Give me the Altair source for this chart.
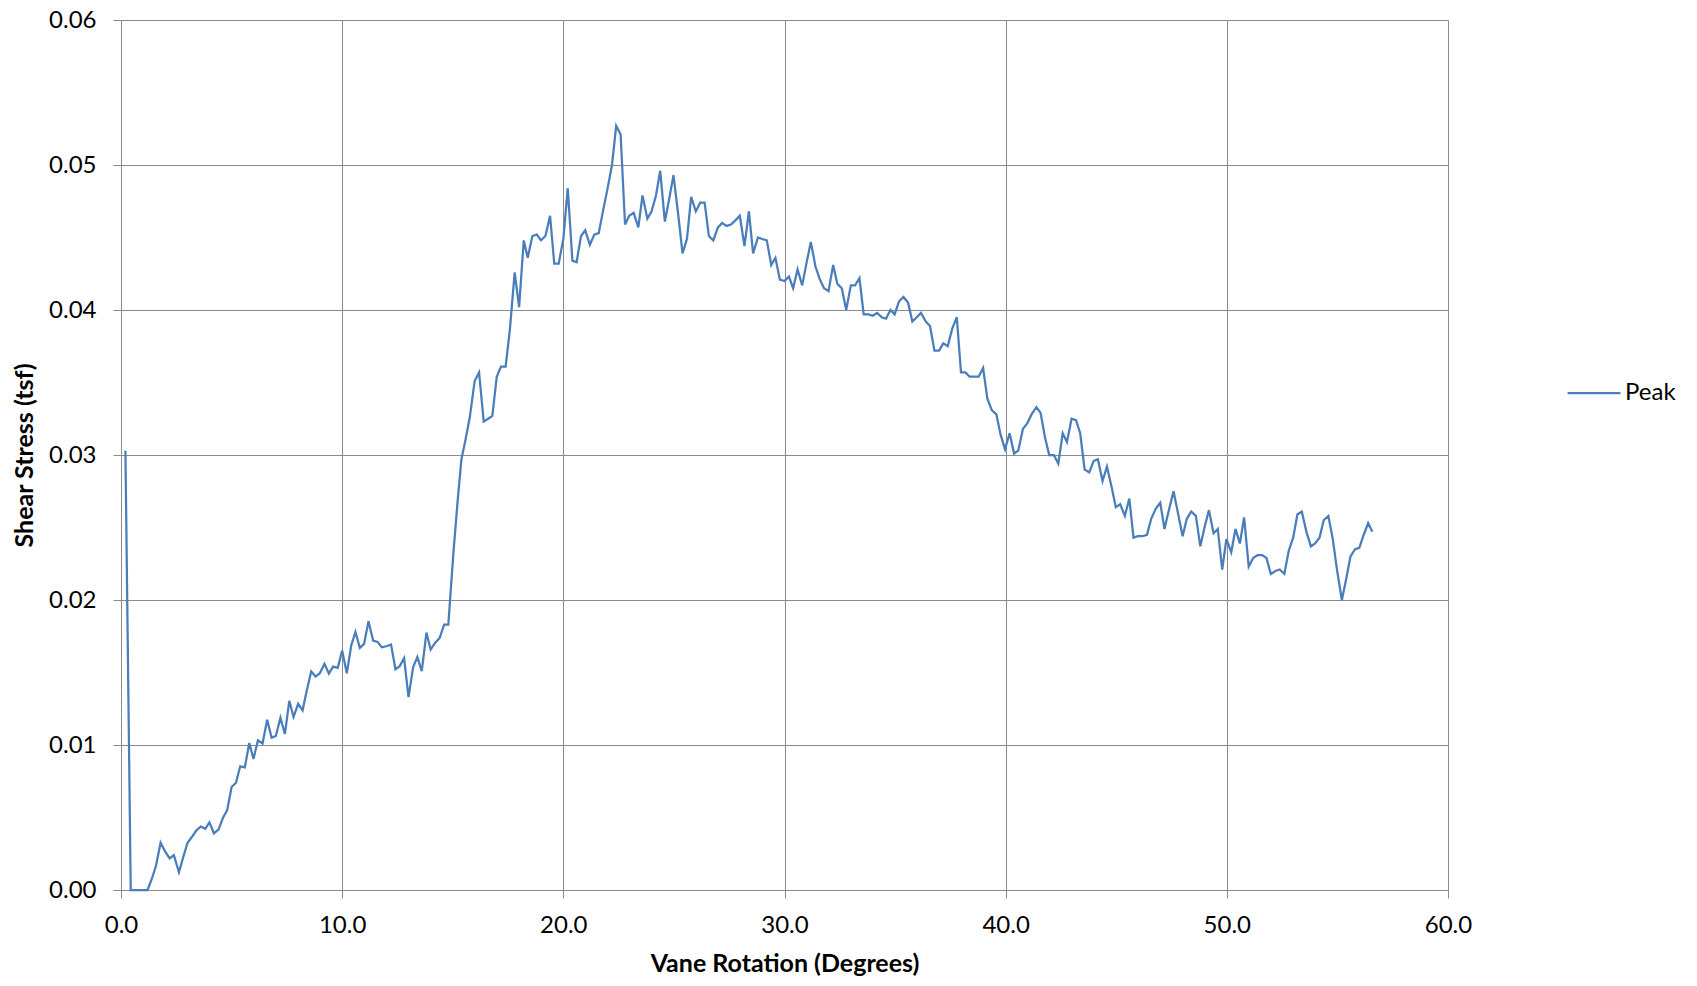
import altair as alt
import pandas as pd

rotation = [
    0.20, 0.44, 0.64, 0.84, 1.04, 1.20, 1.40, 1.58, 1.79, 2.00,
    2.20, 2.39, 2.62, 2.82, 3.01, 3.21, 3.42, 3.61, 3.81, 4.00,
    4.20, 4.41, 4.61, 4.80, 5.00, 5.20, 5.39, 5.60, 5.80, 5.99,
    6.19, 6.40, 6.61, 6.81, 7.00, 7.21, 7.41, 7.61, 7.80, 8.01,
    8.21, 8.40, 8.60, 8.80, 8.99, 9.20, 9.40, 9.59, 9.80, 10.00,
    10.21, 10.41, 10.60, 10.80, 10.99, 11.19, 11.40, 11.60, 11.79, 12.00,
    12.21, 12.41, 12.60, 12.80, 13.00, 13.21, 13.40, 13.60, 13.81, 14.00,
    14.20, 14.41, 14.61, 14.80, 15.03, 15.22, 15.39, 15.57, 15.77, 15.99,
    16.19, 16.40, 16.60, 16.79, 16.99, 17.18, 17.39, 17.58, 17.80, 18.00,
    18.21, 18.39, 18.60, 18.80, 18.99, 19.19, 19.40, 19.59, 19.79, 20.00,
    20.20, 20.41, 20.60, 20.80, 20.99, 21.20, 21.40, 21.60, 21.79, 21.99,
    22.20, 22.39, 22.59, 22.79, 22.98, 23.18, 23.39, 23.58, 23.80, 23.99,
    24.19, 24.38, 24.59, 24.79, 24.98, 25.20, 25.39, 25.59, 25.78, 25.99,
    26.19, 26.39, 26.58, 26.78, 26.99, 27.18, 27.38, 27.58, 27.79, 27.98,
    28.19, 28.39, 28.58, 28.80, 28.99, 29.20, 29.40, 29.59, 29.79, 30.00,
    30.20, 30.39, 30.59, 30.80, 30.99, 31.19, 31.40, 31.60, 31.79, 31.99,
    32.20, 32.39, 32.59, 32.79, 33.00, 33.19, 33.39, 33.58, 33.80, 33.99,
    34.19, 34.40, 34.59, 34.79, 34.98, 35.18, 35.38, 35.59, 35.78, 35.98,
    36.17, 36.39, 36.58, 36.78, 36.99, 37.18, 37.38, 37.58, 37.79, 37.98,
    38.18, 38.37, 38.58, 38.78, 38.98, 39.17, 39.37, 39.58, 39.77, 39.97,
    40.18, 40.38, 40.57, 40.78, 40.98, 41.17, 41.39, 41.58, 41.78, 41.97,
    42.18, 42.38, 42.58, 42.77, 42.98, 43.18, 43.37, 43.57, 43.78, 43.98,
    44.17, 44.38, 44.58, 44.79, 44.98, 45.18, 45.39, 45.59, 45.78, 45.98,
    46.19, 46.39, 46.58, 46.79, 46.99, 47.18, 47.38, 47.59, 47.79, 48.00,
    48.19, 48.39, 48.60, 48.80, 48.99, 49.19, 49.40, 49.59, 49.79, 49.98,
    50.20, 50.39, 50.59, 50.78, 50.99, 51.19, 51.39, 51.60, 51.79, 51.99,
    52.20, 52.39, 52.60, 52.80, 53.00, 53.19, 53.39, 53.60, 53.80, 53.99,
    54.19, 54.38, 54.59, 54.79, 54.98, 55.20, 55.39, 55.59, 55.80, 55.99,
    56.19, 56.39, 56.58,
]

shear = [
    0.0303, 0.0000, 0.0000, 0.0000, 0.0000, 0.0000, 0.0008, 0.00165, 0.00326, 0.00264,
    0.00218, 0.00240, 0.00122, 0.00230, 0.00326, 0.00367, 0.00413, 0.00438, 0.00422, 0.00466,
    0.00390, 0.00417, 0.00498, 0.00550, 0.00710, 0.00740, 0.00853, 0.00846, 0.01014, 0.00904,
    0.01032, 0.01010, 0.01174, 0.01050, 0.01062, 0.01188, 0.01076, 0.01305, 0.01193, 0.01284,
    0.01239, 0.01376, 0.01507, 0.01472, 0.01495, 0.01560, 0.01493, 0.01541, 0.01532, 0.01651,
    0.01495, 0.01686, 0.01780, 0.01670, 0.01697, 0.01853, 0.01720, 0.01711, 0.01674, 0.01681,
    0.01693, 0.01523, 0.01544, 0.01599, 0.01330, 0.01537, 0.01606, 0.01509, 0.01775, 0.01658,
    0.01704, 0.01739, 0.01830, 0.01830, 0.02325, 0.02680, 0.0297, 0.0310, 0.0326, 0.0351,
    0.0357, 0.0323, 0.0325, 0.0327, 0.0354, 0.0361, 0.0361, 0.0386, 0.0426, 0.0402,
    0.0448, 0.0436, 0.0451, 0.0452, 0.0448, 0.0451, 0.0465, 0.0432, 0.0432, 0.0449,
    0.0484, 0.0434, 0.0433, 0.0451, 0.0455, 0.0445, 0.0452, 0.0453, 0.0468, 0.0483,
    0.0500, 0.0527, 0.0521, 0.0459, 0.0465, 0.0467, 0.0457, 0.0479, 0.0463, 0.0468,
    0.0479, 0.0496, 0.0461, 0.0477, 0.0493, 0.0465, 0.0439, 0.0449, 0.0478, 0.0468,
    0.0474, 0.0474, 0.0451, 0.0448, 0.0457, 0.0460, 0.0458, 0.0459, 0.0462, 0.0465,
    0.0444, 0.0468, 0.0439, 0.0450, 0.0449, 0.0448, 0.0431, 0.0436, 0.0421, 0.0420,
    0.0423, 0.0415, 0.0428, 0.0417, 0.0432, 0.0447, 0.0430, 0.0421, 0.0415, 0.0413,
    0.0431, 0.0418, 0.0415, 0.0400, 0.0417, 0.0417, 0.0422, 0.0397, 0.0397, 0.0396,
    0.0398, 0.0395, 0.0394, 0.0400, 0.0397, 0.0406, 0.0409, 0.0405, 0.0392, 0.0395,
    0.0398, 0.0392, 0.0389, 0.0372, 0.0372, 0.0377, 0.0375, 0.0387, 0.0395, 0.0357,
    0.0357, 0.0354, 0.0354, 0.0354, 0.0360, 0.0339, 0.0331, 0.0328, 0.0314, 0.0304,
    0.0315, 0.0301, 0.0303, 0.0318, 0.0322, 0.0328, 0.0333, 0.0329, 0.0312, 0.0300,
    0.0300, 0.0294, 0.0315, 0.0309, 0.0325, 0.0324, 0.0315, 0.0290, 0.0288, 0.0296,
    0.0297, 0.0282, 0.0292, 0.0278, 0.0264, 0.0266, 0.0258, 0.0270, 0.0243, 0.0244,
    0.0244, 0.0245, 0.0256, 0.0263, 0.0267, 0.0249, 0.0262, 0.0275, 0.0260, 0.0244,
    0.0256, 0.0261, 0.0258, 0.0237, 0.0250, 0.0262, 0.0246, 0.0249, 0.0221, 0.0242,
    0.0233, 0.0249, 0.0239, 0.0257, 0.0223, 0.0229, 0.0231, 0.0231, 0.0229, 0.0218,
    0.0220, 0.0221, 0.0218, 0.0234, 0.0243, 0.0259, 0.0261, 0.0247, 0.0237, 0.0239,
    0.0243, 0.0255, 0.0258, 0.0242, 0.0221, 0.0200, 0.0214, 0.0230, 0.0235, 0.0236,
    0.0245, 0.0253, 0.0247,
]

series_name = "Peak"
x_ticks = [0, 10, 20, 30, 40, 50, 60]
y_ticks = [0.0, 0.01, 0.02, 0.03, 0.04, 0.05, 0.06]

df = pd.DataFrame({"rotation": rotation, "shear": shear, "series": series_name})

FONT = "Lato"
GRID = "#8a8a8a"

chart = (
    alt.Chart(df)
    .mark_line(strokeWidth=2.25, interpolate="linear")
    .encode(
        x=alt.X(
            "rotation:Q",
            scale=alt.Scale(domain=[0, 60], nice=False, zero=False),
            axis=alt.Axis(
                title="Vane Rotation (Degrees)",
                values=x_ticks,
                format=".1f",
                labelFlush=False,
                labelOverlap=False,
                titlePadding=14,
                labelPadding=15,
            ),
        ),
        y=alt.Y(
            "shear:Q",
            scale=alt.Scale(domain=[0, 0.06], nice=False),
            axis=alt.Axis(
                title="Shear Stress (tsf)",
                values=y_ticks,
                format=".2f",
                labelFlush=False,
                labelOverlap=False,
                titlePadding=11,
                labelPadding=17,
            ),
        ),
        color=alt.Color(
            "series:N",
            scale=alt.Scale(range=["#4a7ebb"]),
            legend=alt.Legend(
                title=None,
                orient="none",
                legendX=1445,
                legendY=345,
                symbolType="stroke",
                symbolSize=2800,
                symbolStrokeWidth=2.25,
                labelFont=FONT,
                labelFontSize=24,
                labelColor="#000000",
                labelOffset=3,
            ),
        ),
    )
    .properties(
        width=1327,
        height=870,
        autosize=alt.AutoSizeParams(type="none"),
        padding={"left": 113, "top": 12, "right": 230, "bottom": 87},
    )
    .configure_view(strokeWidth=0)
    .configure_axis(
        gridColor=GRID,
        gridWidth=1,
        domainColor=GRID,
        domainWidth=1,
        tickColor=GRID,
        tickSize=8,
        labelFont=FONT,
        labelFontSize=24,
        labelColor="#000000",
        titleFont=FONT,
        titleFontSize=25,
        titleFontWeight="bold",
        titleColor="#000000",
    )
)

chart.save("out.html", embed_options={"renderer": "svg", "actions": False})
